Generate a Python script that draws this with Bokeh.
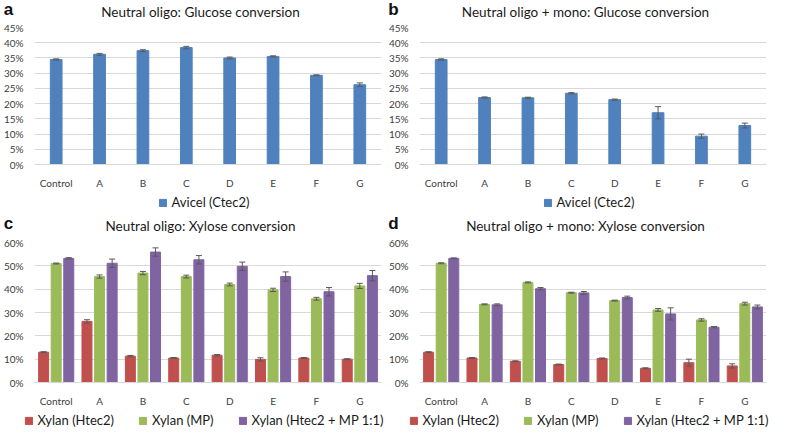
from bokeh.plotting import figure
from bokeh.models import (ColumnDataSource, FactorRange, Range1d, NumeralTickFormatter,
                          Legend, LegendItem, FixedTicker, Label)
from bokeh.transform import dodge
from bokeh.layouts import column, row
from bokeh.embed import file_html
from bokeh.resources import INLINE

cats = ["Control", "A", "B", "C", "D", "E", "F", "G"]

# Panel a: Neutral oligo, glucose conversion (%)
a_avicel = [34.5, 36.2, 37.4, 38.4, 35.0, 35.5, 29.3, 26.2]
a_avicel_err = [0.2, 0.3, 0.3, 0.4, 0.3, 0.2, 0.15, 0.6]

# Panel b: Neutral oligo + mono, glucose conversion (%)
b_avicel = [34.5, 22.0, 21.9, 23.4, 21.3, 17.0, 9.3, 12.8]
b_avicel_err = [0.2, 0.2, 0.2, 0.2, 0.2, 2.0, 0.7, 0.8]

# Panel c: Neutral oligo, xylose conversion (%)
c_htec2 = [13.0, 26.2, 11.3, 10.5, 11.7, 9.9, 10.5, 10.0]
c_htec2_err = [0.2, 0.7, 0.3, 0.2, 0.3, 0.7, 0.2, 0.2]
c_mp = [51.0, 45.4, 46.9, 45.4, 42.0, 39.7, 35.9, 41.4]
c_mp_err = [0.2, 0.7, 0.7, 0.6, 0.6, 0.7, 0.6, 1.1]
c_mix = [53.2, 51.1, 55.9, 52.6, 49.8, 45.4, 38.9, 45.8]
c_mix_err = [0.3, 1.8, 1.8, 1.8, 1.8, 2.0, 1.8, 2.2]

# Panel d: Neutral oligo + mono, xylose conversion (%)
d_htec2 = [13.0, 10.5, 9.1, 7.7, 10.3, 6.1, 8.5, 7.1]
d_htec2_err = [0.2, 0.2, 0.2, 0.2, 0.2, 0.2, 1.5, 0.9]
d_mp = [51.1, 33.5, 42.9, 38.5, 35.1, 31.1, 26.8, 33.8]
d_mp_err = [0.2, 0.2, 0.2, 0.2, 0.2, 0.6, 0.5, 0.6]
d_mix = [53.2, 33.3, 40.2, 38.4, 36.4, 29.4, 23.7, 32.4]
d_mix_err = [0.2, 0.4, 0.5, 0.6, 0.6, 2.6, 0.3, 0.8]

BLUE = "#4F81BD"
RED = "#C0504D"
GREEN = "#9BBB59"
PURPLE = "#8064A2"
ERR = "#595959"
FONT = "Lato"


def title_fig(letter, title, width, height):
    tf = figure(width=width, height=height, x_range=Range1d(0, width),
                y_range=Range1d(0, height), toolbar_location=None,
                output_backend="svg", x_axis_location=None, y_axis_location=None,
                min_border=0)
    tf.grid.visible = False
    tf.outline_line_color = None
    tf.add_layout(Label(x=8, y=height / 2 + 1, text=letter,
                        text_font="Liberation Sans", text_font_style="bold",
                        text_font_size="17px", text_color="#111111",
                        text_align="center", text_baseline="middle"))
    tf.add_layout(Label(x=200, y=height / 2 - 1, text=title,
                        text_font=FONT, text_font_size="13.5px", text_color="#1a1a1a",
                        text_align="center", text_baseline="middle"))
    return tf


def panel(ymax, ystep, series, width, height, bar_w, offsets):
    p = figure(x_range=FactorRange(*cats), y_range=Range1d(0, ymax / 100.0),
               width=width, height=height, output_backend="svg",
               toolbar_location=None,
               min_border_left=5, min_border_right=4, min_border_top=7, min_border_bottom=2)
    p.outline_line_color = None
    p.xgrid.grid_line_color = None
    p.ygrid.grid_line_color = "#d9d9d9"
    n = int(round(ymax / ystep))
    p.yaxis.ticker = FixedTicker(ticks=[round(i * ystep / 100.0, 4) for i in range(n + 1)])
    p.yaxis.formatter = NumeralTickFormatter(format="0%")
    p.yaxis.axis_line_color = None
    p.yaxis.major_tick_line_color = None
    p.yaxis.minor_tick_line_color = None
    p.xaxis.axis_line_color = "#d9d9d9"
    p.xaxis.major_tick_line_color = None
    p.xaxis.minor_tick_line_color = None
    p.xaxis.major_label_standoff = 6
    for ax in (p.xaxis, p.yaxis):
        ax.major_label_text_font = FONT
        ax.major_label_text_font_size = "10px"
        ax.major_label_text_color = "#404040"
    for (name, vals, errs, color), off in zip(series, offsets):
        src = ColumnDataSource(dict(
            cat=cats,
            val=[v / 100.0 for v in vals],
            lo=[(v - e) / 100.0 for v, e in zip(vals, errs)],
            hi=[(v + e) / 100.0 for v, e in zip(vals, errs)],
        ))
        xs = dodge("cat", off, range=p.x_range)
        p.vbar(x=xs, top="val", width=bar_w, source=src,
               fill_color=color, line_color=color)
        p.segment(x0=xs, x1=xs, y0="lo", y1="hi", source=src,
                  line_color=ERR, line_width=1)
        p.scatter(x=xs, y="hi", source=src, marker="dash", size=6,
                  line_color=ERR, line_width=1)
        p.scatter(x=xs, y="lo", source=src, marker="dash", size=6,
                  line_color=ERR, line_width=1)
    return p


def legend_fig(series, width, height):
    lf = figure(width=width, height=height, x_range=(0, 1), y_range=(0, 1),
                toolbar_location=None, output_backend="svg",
                x_axis_location=None, y_axis_location=None,
                min_border_left=22, min_border_right=0, min_border_top=0, min_border_bottom=0)
    lf.grid.visible = False
    lf.outline_line_color = None
    items = []
    for name, color in series:
        # off-range placeholder bar: only its legend swatch is seen
        r = lf.vbar(x=[-5], top=[-5], width=0.5, fill_color=color, line_color=color)
        items.append(LegendItem(label=name, renderers=[r]))
    leg = Legend(items=items, orientation="horizontal", location="center",
                 border_line_color=None, background_fill_alpha=0,
                 label_text_font=FONT, label_text_font_size="13px",
                 label_text_color="#1a1a1a", glyph_width=9, glyph_height=9,
                 spacing=24, padding=0, margin=0, label_standoff=5)
    lf.add_layout(leg)
    return lf


W = 385
glu_items = [("Avicel (Ctec2)", BLUE)]
xyl_items = [("Xylan (Htec2)", RED), ("Xylan (MP)", GREEN), ("Xylan (Htec2 + MP 1:1)", PURPLE)]

ta = title_fig("a", "Neutral oligo: Glucose conversion", W, 20)
tb = title_fig("b", "Neutral oligo + mono: Glucose conversion", W, 20)
tc = title_fig("c", "Neutral oligo: Xylose conversion", W, 22)
td = title_fig("d", "Neutral oligo + mono: Xylose conversion", W, 22)

pa = panel(45, 5, [("Avicel (Ctec2)", a_avicel, a_avicel_err, BLUE)], W, 171, 0.27, [0])
pb = panel(45, 5, [("Avicel (Ctec2)", b_avicel, b_avicel_err, BLUE)], W, 171, 0.27, [0])
pc = panel(60, 10,
           [("Xylan (Htec2)", c_htec2, c_htec2_err, RED),
            ("Xylan (MP)", c_mp, c_mp_err, GREEN),
            ("Xylan (Htec2 + MP 1:1)", c_mix, c_mix_err, PURPLE)], W, 174, 0.23, [-0.29, 0, 0.29])
pd_ = panel(60, 10,
            [("Xylan (Htec2)", d_htec2, d_htec2_err, RED),
             ("Xylan (MP)", d_mp, d_mp_err, GREEN),
             ("Xylan (Htec2 + MP 1:1)", d_mix, d_mix_err, PURPLE)], W, 174, 0.23, [-0.29, 0, 0.29])

la = legend_fig(glu_items, W, 22)
lb = legend_fig(glu_items, W, 22)
lc = legend_fig(xyl_items, W, 22)
ld = legend_fig(xyl_items, W, 22)

layout = column(row(ta, tb), row(pa, pb), row(la, lb),
                row(tc, td), row(pc, pd_), row(lc, ld), spacing=0)
open("out.html", "w").write(file_html(layout, INLINE))
